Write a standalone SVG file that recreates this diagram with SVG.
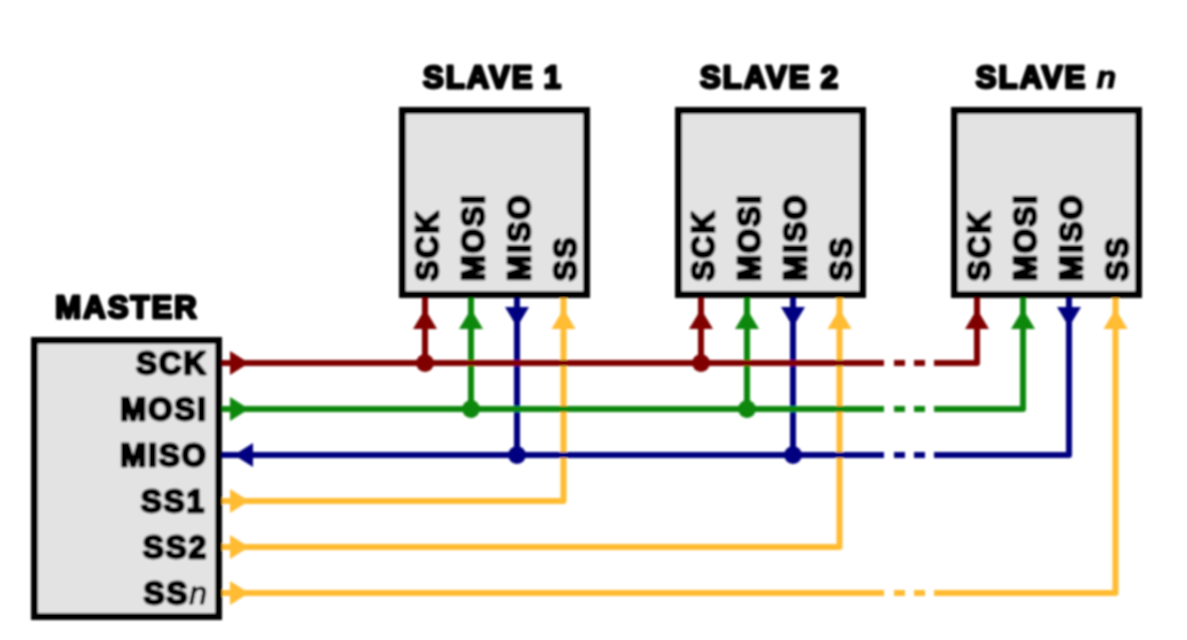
<svg xmlns="http://www.w3.org/2000/svg" width="1187" height="640" viewBox="0 0 1187 640">
<style>
text{font-family:"Liberation Sans",Arial,sans-serif;font-weight:700;font-size:31px;letter-spacing:2.1px;word-spacing:-1.500px;fill:#000;stroke:#000;stroke-width:2.8;stroke-linejoin:round}
.r{text-anchor:end}
.m{text-anchor:middle}
.i{font-style:italic;font-size:32px;letter-spacing:0;stroke-width:1.2}
.t{font-weight:400;stroke-width:1.1}
.box{fill:#e3e3e3;stroke:#000;stroke-width:7}
.w{fill:none;stroke-width:6;stroke-linejoin:round}
.sr{stroke:#800000}.sg{stroke:#118811}.sb{stroke:#000080}.sy{stroke:#ffbb33}
.fr{fill:#800000}.fg{fill:#118811}.fb{fill:#000080}.fy{fill:#ffbb33}
</style>
<defs>
<filter id="soft" x="0" y="0" width="1187" height="640" filterUnits="userSpaceOnUse"><feGaussianBlur stdDeviation="0.8"/></filter>
<path id="up" d="M0-11L12 9H-12Z"/>
<path id="down" d="M0 11L12-9H-12Z"/>
<path id="right" d="M19 0L0-12V12Z"/>
<path id="left" d="M0 0L19-12V12Z"/>
<circle id="dot" r="9"/>
</defs>
<rect width="1187" height="640" fill="#fff"/>
<g filter="url(#soft)">
<g id="connectors">
<g class="w sy">
<path d="M222 501H563.500V298"/>
<path d="M222 547H839.500V298"/>
<path d="M222 593H884M894 593H905M914 593H925M934 593H1115.500V298"/>
</g>
<g class="w sb">
<path d="M517 298V455M793 298V455"/>
<path d="M222 455H884M894 455H905M914 455H925M934 455H1069V298"/>
</g>
<g class="w sg">
<path d="M471 298V409M747 298V409"/>
<path d="M222 409H884M894 409H905M914 409H925M934 409H1023V298"/>
</g>
<g class="w sr">
<path d="M425 298V363M701 298V363"/>
<path d="M222 363H884M894 363H905M914 363H925M934 363H977V298"/>
</g>
<use href="#dot" x="425" y="363" class="fr"/><use href="#dot" x="701" y="363" class="fr"/>
<use href="#dot" x="471" y="409" class="fg"/><use href="#dot" x="747" y="409" class="fg"/>
<use href="#dot" x="517" y="455" class="fb"/><use href="#dot" x="793" y="455" class="fb"/>
<use href="#right" x="230" y="363" class="fr"/>
<use href="#right" x="230" y="409" class="fg"/>
<use href="#left" x="234" y="455" class="fb"/>
<use href="#right" x="230" y="501" class="fy"/>
<use href="#right" x="230" y="547" class="fy"/>
<use href="#right" x="230" y="593" class="fy"/>
<use href="#up" x="425" y="320" class="fr"/><use href="#up" x="471" y="320" class="fg"/><use href="#down" x="517" y="316" class="fb"/><use href="#up" x="563.500" y="320" class="fy"/>
<use href="#up" x="701" y="320" class="fr"/><use href="#up" x="747" y="320" class="fg"/><use href="#down" x="793" y="316" class="fb"/><use href="#up" x="839.500" y="320" class="fy"/>
<use href="#up" x="977" y="320" class="fr"/><use href="#up" x="1023" y="320" class="fg"/><use href="#down" x="1069" y="316" class="fb"/><use href="#up" x="1115.500" y="320" class="fy"/>
</g>
<g id="master">
<rect class="box" x="34.500" y="340.500" width="184" height="276"/>
<text class="m" x="127" y="318">MASTER</text>
<text class="r" x="208" y="374">SCK</text>
<text class="r" x="208" y="420">MOSI</text>
<text class="r" x="208" y="466">MISO</text>
<text class="r" x="206" y="512">SS1</text>
<text class="r" x="208" y="558">SS2</text>
<text class="r" x="207" y="604">SS<tspan class="i t">n</tspan></text>
</g>
<g id="slave1">
<rect class="box" x="402.500" y="110.500" width="184" height="184"/>
<text class="m" x="493" y="88">SLAVE 1</text>
<text transform="translate(438 281) rotate(-90)">SCK</text>
<text transform="translate(484 281) rotate(-90)">MOSI</text>
<text transform="translate(530 281) rotate(-90)">MISO</text>
<text transform="translate(576 281) rotate(-90)">SS</text>
</g>
<g id="slave2">
<rect class="box" x="678.500" y="110.500" width="184" height="184"/>
<text class="m" x="770" y="88">SLAVE 2</text>
<text transform="translate(714 281) rotate(-90)">SCK</text>
<text transform="translate(760 281) rotate(-90)">MOSI</text>
<text transform="translate(806 281) rotate(-90)">MISO</text>
<text transform="translate(852 281) rotate(-90)">SS</text>
</g>
<g id="slaven">
<rect class="box" x="954.500" y="110.500" width="184" height="184"/>
<text class="m" x="1046" y="88">SLAVE <tspan class="i">n</tspan></text>
<text transform="translate(990 281) rotate(-90)">SCK</text>
<text transform="translate(1036 281) rotate(-90)">MOSI</text>
<text transform="translate(1082 281) rotate(-90)">MISO</text>
<text transform="translate(1128 281) rotate(-90)">SS</text>
</g>
</g>
</svg>
